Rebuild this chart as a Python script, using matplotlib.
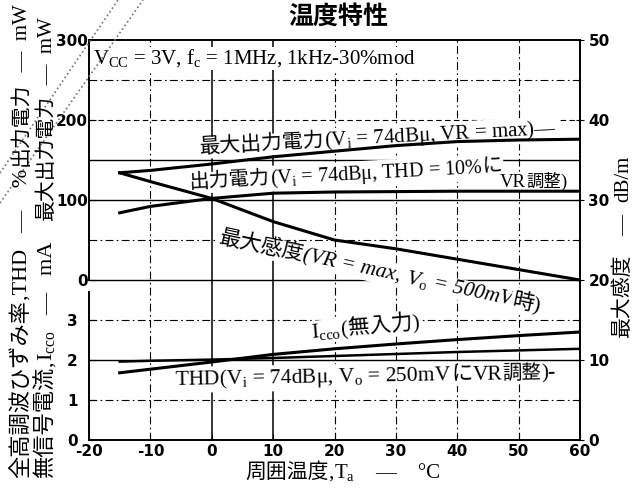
import matplotlib
matplotlib.use('Agg')
import matplotlib.pyplot as plt
from matplotlib.lines import Line2D
import numpy as np

plt.rcParams['font.family'] = ['Liberation Serif', 'Noto Sans CJK JP']
plt.rcParams['mathtext.fontset'] = 'custom'
plt.rcParams['mathtext.rm'] = 'Liberation Serif'
plt.rcParams['mathtext.it'] = 'Liberation Serif:italic'

# ambient temperature (°C)
temp = [-15, -10, 0, 10, 20, 30, 40, 50, 60]
# max output power, Vi=74dBu, VR=max (mW)
max_power = [134, 137, 145, 154, 161, 168, 173, 175, 176]
# output power, THD=10% (mW)
out_power = [84, 92, 102, 108.5, 110, 110.5, 111, 111, 111]
# max sensitivity (dB/m)
max_sens = [33.4, 32.3, 30.2, 27.3, 25.0, 23.9, 22.6, 21.3, 20.0]
# quiescent current Icco (mA)
icco = [1.68, 1.77, 1.95, 2.14, 2.28, 2.40, 2.51, 2.61, 2.70]
# THD (%)
thd = [1.96, 1.98, 2.01, 2.05, 2.10, 2.15, 2.20, 2.24, 2.28]

x_ticks = [-20, -10, 0, 10, 20, 30, 40, 50, 60]
db_ticks = [0, 10, 20, 30, 40, 50]
power_ticks = [0, 100, 200, 300]
low_ticks = [0, 1, 2, 3]

W, H = 640, 491
def fx(px):
    return px / W
def fy(py):
    return 1 - py / H

fig = plt.figure(figsize=(6.4, 4.91), dpi=100)
renderer = fig.canvas.get_renderer()
L, B = fx(89), fy(440)
AW, AH = fx(580) - L, fy(40) - B

DASHDOT = (0, (7, 3, 1.5, 3))
DASHED = (0, (5, 3))
tick_font = dict(family='DejaVu Sans', weight='bold', size=11)

# main axes: dB/m scale on the right, grid
ax = fig.add_axes([L, B, AW, AH])


def rich_text(x, y, parts, rotation=0, size=14, on_plot=False):
    # draw pieces one after another; (x, y) = left end of baseline, picture pixels
    ang = np.deg2rad(rotation)
    px, py = x, H - y
    for part in parts:
        style = 'normal'
        psize = size
        if isinstance(part, tuple):
            part, opts = part
            style = opts.get('style', 'normal')
            psize = opts.get('size', size)
        if on_plot:
            t = ax.text(px / W, py / H, part, transform=fig.transFigure,
                        fontsize=psize, style=style, zorder=2,
                        rotation_mode='anchor', ha='left', va='baseline')
            t.set_bbox(dict(facecolor='white', edgecolor='none',
                            boxstyle='square,pad=0.05'))
        else:
            t = fig.text(px / W, py / H, part, fontsize=psize, style=style,
                         rotation_mode='anchor', ha='left', va='baseline')
        w = t.get_window_extent(renderer).width
        t.set_rotation(rotation)
        px += w * np.cos(ang)
        py += w * np.sin(ang)


ax.set_xlim(-20, 60)
ax.set_ylim(0, 50)
ax.spines['left'].set_visible(False)
for s in ['top', 'right', 'bottom']:
    ax.spines[s].set_linewidth(1.4)
ax.yaxis.tick_right()
ax.set_yticks(db_ticks)
ax.set_yticklabels([str(v) for v in db_ticks], **tick_font)
ax.set_xticks(x_ticks)
ax.set_xticklabels([str(v) for v in x_ticks], **tick_font)
ax.tick_params(axis='y', direction='inout', length=6, pad=3)
ax.tick_params(axis='x', direction='in', length=4, pad=3)

h_grid = [45, 40, 35, 30, 25, 20, 15, 10, 5]
h_style = [DASHDOT, DASHED, '-', '-', DASHDOT, '-', DASHDOT, '-', DASHDOT]
for v, ls in zip(h_grid, h_style):
    ax.axhline(v, color='k', lw=0.8 if ls != '-' else 1.0, ls=ls, zorder=1)
v_grid = [-10, 0, 10, 20, 30, 40, 50]
v_style = [DASHDOT, '-', '-', DASHDOT, DASHDOT, DASHDOT, DASHDOT]
for v, ls in zip(v_grid, v_style):
    ax.axvline(v, color='k', lw=0.8 if ls != '-' else 1.1, ls=ls, zorder=1)

ax.plot(temp, max_sens, color='k', lw=2.2, zorder=3)

# upper left scale: power (mW)
ax_p = fig.add_axes([L, B + AH * 0.4, AW, AH * 0.6])
ax_p.patch.set_visible(False)
ax_p.set_xlim(-20, 60)
ax_p.set_ylim(0, 300)
for s in ['top', 'right', 'bottom']:
    ax_p.spines[s].set_visible(False)
ax_p.spines['left'].set_linewidth(1.4)
ax_p.set_xticks([])
ax_p.set_yticks(power_ticks)
ax_p.set_yticklabels([str(v) for v in power_ticks], **tick_font)
ax_p.tick_params(axis='y', direction='in', length=5, pad=1)
ax_p.plot(temp, max_power, color='k', lw=2.2)
ax_p.plot(temp, out_power, color='k', lw=2.2)

# lower left scale: Icco (mA) / THD (%)
ax_i = fig.add_axes([L, B, AW, AH * 0.37])
ax_i.patch.set_visible(False)
ax_i.set_xlim(-20, 60)
ax_i.set_ylim(0, 3.7)
for s in ['top', 'right', 'bottom']:
    ax_i.spines[s].set_visible(False)
ax_i.spines['left'].set_linewidth(1.4)
ax_i.set_xticks([])
ax_i.set_yticks(low_ticks)
ax_i.set_yticklabels([str(v) for v in low_ticks], **tick_font)
ax_i.tick_params(axis='y', direction='in', length=5, pad=8)
ax_i.plot(temp, icco, color='k', lw=2.2)
ax_i.plot(temp, thd, color='k', lw=1.8)

# texts
fig.text(fx(338), fy(17), '温度特性', fontsize=18, family='Noto Sans CJK JP',
         weight='bold', ha='center', va='center')
rich_text(93, 64, [r'V$_\mathrm{CC}$ = 3V, f$_\mathrm{c}$ = 1MHz, 1kHz-30%mod'],
          size=15, on_plot=True)
rich_text(200, 153, ['最大出力電力', r'(V$_\mathrm{i}$ = 74dBμ, VR = max)—'],
          rotation=3, size=15, on_plot=True)
rich_text(190, 188, ['出力電力', r'(V$_\mathrm{i}$ = 74dBμ, THD = 10%', 'に'],
          rotation=3, size=14.5, on_plot=True)
rich_text(500, 187, ['VR', ('調整', {'size': 12.5}), ')'], size=13.5, on_plot=True)
rich_text(218, 243, ['最大感度', ('(VR = max, ', {'style': 'italic'}),
                     (r'$\mathit{V}_\mathrm{o}$', {'style': 'italic'}),
                     (' = 500mV', {'style': 'italic'}), '時)'],
          rotation=-12, size=15.5, on_plot=True)
rich_text(312, 338, [r'I$_\mathrm{cco}$', '(無入力)'], rotation=5, size=15.5,
          on_plot=True)
rich_text(175, 385, [r'THD(V$_\mathrm{i}$ = 74dBμ, V$_\mathrm{o}$ = 250mV', 'に',
                     'VR', ('調整', {'size': 14}), ')-'],
          rotation=1, size=15.5, on_plot=True)

# axis labels
rich_text(27, 478, ['全高調波ひずみ率', ',THD   —    %'], rotation=90, size=16)
rich_text(27, 166, ['出力電力', '  —  mW'], rotation=90, size=15)
rich_text(52, 478, ['無信号電流', ',', r'I$_\mathrm{cco}$', '   —   mA'], rotation=90, size=16)
rich_text(52, 220, ['最大出力電力', '  —  mW'], rotation=90, size=15)
rich_text(628, 337, ['最大感度'], rotation=90, size=15)
rich_text(628, 236, ['—'], rotation=90, size=15)
rich_text(628, 202, ['dB/m'], rotation=90, size=15)
rich_text(245, 478, ['周囲温度', ',', r'T$_\mathrm{a}$', '    —    °C'], size=15)

# scan strike marks in the top-left corner
fig.add_artist(Line2D([fx(0), fx(118)], [fy(173), fy(0)], color='0.45',
                      lw=1.2, ls=':'))
fig.add_artist(Line2D([fx(0), fx(143)], [fy(203), fy(0)], color='0.45',
                      lw=1.2, ls=':'))

fig.savefig('out.png', dpi=100)
